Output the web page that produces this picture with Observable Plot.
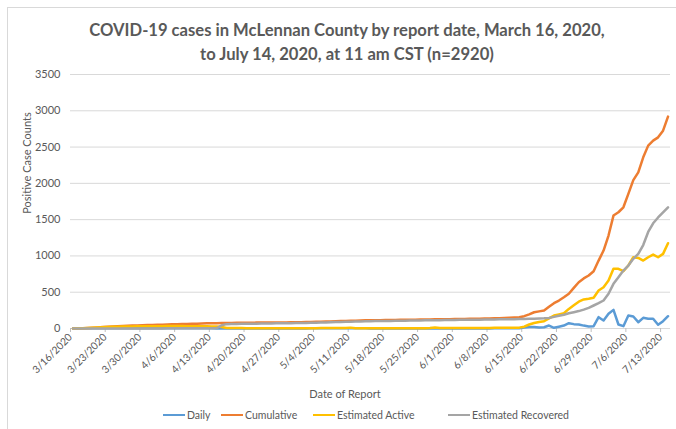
<!DOCTYPE html>
<html>
<head>
<meta charset="utf-8">
<script src="https://cdn.jsdelivr.net/npm/d3@7"></script>
<script src="https://cdn.jsdelivr.net/npm/@observablehq/plot@0.6"></script>
<style>
  html, body { margin: 0; padding: 0; background: #ffffff; }
  #wrap { position: relative; width: 676px; height: 429px; overflow: hidden; font-family: Lato, "Open Sans", sans-serif; color: #595959; }
  #frame { position: absolute; left: 7px; top: 7px; width: 700px; height: 450px; border: 1px solid #d9d9d9; box-sizing: border-box; }
  #chart { position: absolute; left: 0; top: 0; }
  .title { position: absolute; left: 0; width: 694px; text-align: center; font-weight: bold; font-size: 16.6px; color: #595959; white-space: nowrap; }
  #ylab { position: absolute; left: 26px; top: 163px; transform: translate(-50%, -50%) rotate(-90deg); font-size: 11px; white-space: nowrap; }
  #xlab { position: absolute; left: 345px; top: 393px; transform: translate(-50%, -50%); font-size: 11px; white-space: nowrap; }
  .leg { position: absolute; top: 408px; font-size: 10.5px; white-space: nowrap; display: flex; align-items: center; height: 14px; }
  .leg i { display: inline-block; width: 22px; height: 2.6px; margin-right: 2px; }
</style>
</head>
<body>
<div id="wrap">
  <div id="frame"></div>
  <div id="chart"></div>
  <div class="title" style="top:20px">COVID-19 cases in McLennan County by report date, March 16, 2020,</div>
  <div class="title" style="top:44px">to July 14, 2020, at 11 am CST (n=2920)</div>
  <div id="ylab">Positive Case Counts</div>
  <div id="xlab">Date of Report</div>
  <div id="legend"></div>
</div>
<script>
// Series names and colours
const seriesNames = ["Daily", "Cumulative", "Estimated Active", "Estimated Recovered"];
const seriesColors = ["#5B9BD5", "#ED7D31", "#FFC000", "#A5A5A5"];

// Report dates: every day from 3/16/2020 to 7/14/2020 (121 days)
const startDate = new Date(Date.UTC(2020, 2, 16));
const endDate = new Date(Date.UTC(2020, 6, 15));
const reportDates = d3.utcDay.range(startDate, endDate);

// Weekly tick labels on the x axis
const xTickDates = ["2020-03-16","2020-03-23","2020-03-30","2020-04-06","2020-04-13","2020-04-20","2020-04-27","2020-05-04","2020-05-11","2020-05-18","2020-05-25","2020-06-01","2020-06-08","2020-06-15","2020-06-22","2020-06-29","2020-07-06","2020-07-13"];
const yTicks = [0, 500, 1000, 1500, 2000, 2500, 3000, 3500];

const daily = [
  1, 1, 2, 3, 4, 4, 4,
  4, 4, 4, 3, 3, 3, 3,
  2, 2, 2, 2, 2, 2, 2,
  2, 2, 2, 2, 2, 2, 2,
  2, 1, 1, 1, 1, 1, 1,
  1, 0, 1, 0, 1, 0, 1,
  0, 1, 1, 1, 1, 1, 2,
  2, 2, 2, 2, 2, 2, 2,
  2, 2, 2, 2, 1, 1, 1,
  1, 1, 1, 1, 1, 1, 1,
  1, 1, 1, 1, 1, 1, 1,
  1, 1, 1, 1, 1, 1, 2,
  1, 2, 2, 3, 3, 4, 4,
  14, 20, 22, 15, 18, 41, 10,
  25, 41, 73, 60, 55, 40, 28,
  32, 156, 110, 202, 257, 55, 32,
  179, 165, 87, 147, 134, 134, 51,
  101, 169
];

const cumulative = [
  1, 2, 4, 7, 11, 15, 19,
  23, 27, 31, 34, 37, 40, 43,
  45, 47, 49, 51, 53, 55, 57,
  59, 61, 63, 65, 67, 69, 71,
  73, 74, 75, 76, 77, 78, 79,
  80, 80, 81, 81, 82, 82, 83,
  83, 84, 85, 86, 87, 88, 90,
  92, 94, 96, 98, 100, 102, 104,
  106, 108, 110, 112, 113, 114, 115,
  116, 117, 118, 119, 120, 121, 122,
  123, 124, 125, 126, 127, 128, 129,
  130, 131, 132, 133, 134, 135, 137,
  138, 140, 142, 145, 148, 152, 156,
  170, 195, 224, 236, 248, 300, 349,
  385, 430, 478, 560, 638, 690, 730,
  789, 936, 1074, 1281, 1556, 1602, 1670,
  1855, 2045, 2152, 2359, 2520, 2589, 2634,
  2726, 2920
];

const active = [
  1, 2, 4, 7, 10, 14, 17,
  20, 23, 25, 27, 28, 29, 30,
  30, 31, 31, 32, 32, 33, 33,
  33, 33, 32, 32, 31, 31, 30,
  29, 28, 20, 8, 7, 6, 6,
  5, 5, 5, 4, 4, 4, 4,
  4, 4, 4, 4, 5, 5, 5,
  5, 6, 6, 7, 7, 6, 6,
  12, 5, 5, 4, 4, 4, 4,
  4, 4, 4, 4, 4, 4, 4,
  5, 5, 6, 15, 6, 6, 6,
  6, 6, 7, 7, 7, 8, 8,
  8, 9, 9, 10, 10, 10, 12,
  25, 55, 75, 90, 101, 140, 179,
  195, 210, 270, 320, 370, 400, 410,
  423, 523, 569, 661, 822, 822, 789,
  868, 982, 973, 936, 982, 1019, 982,
  1028, 1175
];

const recovered = [
  0, 0, 0, 0, 0, 0, 0,
  0, 0, 0, 0, 0, 0, 0,
  0, 0, 1, 1, 1, 2, 2,
  2, 3, 3, 3, 4, 4, 5,
  5, 6, 45, 60, 62, 63, 64,
  65, 66, 67, 68, 69, 70, 71,
  72, 73, 74, 75, 76, 77, 78,
  80, 82, 84, 86, 88, 90, 92,
  94, 96, 98, 100, 101, 102, 103,
  104, 105, 106, 107, 108, 109, 110,
  111, 112, 113, 114, 115, 116, 117,
  118, 119, 120, 120, 121, 122, 123,
  124, 125, 126, 127, 128, 129, 130,
  132, 134, 136, 138, 140, 145, 160,
  175, 190, 210, 225, 240, 260, 285,
  317, 350, 386, 478, 615, 706, 799,
  868, 960, 1028, 1150, 1330, 1450, 1530,
  1600, 1670
];

const seriesValues = [daily, cumulative, active, recovered];

// Build a tidy table; each report is drawn at the middle of its day (Excel "between tick marks")
const rows = [];
seriesNames.forEach((name, si) => {
  seriesValues[si].forEach((v, i) => {
    rows.push({series: name, date: d3.utcHour.offset(reportDates[i], 12), value: v});
  });
});

const xTicks = xTickDates.map(s => new Date(s + "T00:00:00Z"));

const plot = Plot.plot({
  width: 676,
  height: 429,
  marginLeft: 70,
  marginRight: 6,
  marginTop: 74,
  marginBottom: 101,
  style: {fontFamily: "Lato, 'Open Sans', sans-serif", fontSize: "10.5px", color: "#595959", background: "transparent", overflow: "visible"},
  x: {type: "utc", domain: [startDate, endDate]},
  y: {domain: [0, 3500]},
  color: {domain: seriesNames, range: seriesColors},
  marks: [
    Plot.gridY(yTicks, {stroke: "#d9d9d9", strokeOpacity: 1, strokeWidth: 1}),
    Plot.axisY(yTicks, {tickSize: 0, tickPadding: 10, tickFormat: d => String(d), label: null, fontSize: 11, fill: "#595959"}),
    Plot.ruleY([0], {stroke: "#d9d9d9", strokeWidth: 1}),
    Plot.axisX(xTicks, {tickFormat: "%-m/%-d/%Y", tickRotate: -45, tickSize: 4, tickPadding: 3, stroke: "#bfbfbf", fill: "#595959", label: null, fontSize: 10.3}),
    ...seriesNames.map(name => Plot.line(rows.filter(r => r.series === name), {
      x: "date", y: "value", stroke: "series", strokeWidth: 2.5, strokeLinejoin: "round", strokeLinecap: "round"
    }))
  ]
});
document.getElementById("chart").appendChild(plot);

// Legend
const legendPos = [163, 221, 313, 448];
const legend = document.getElementById("legend");
seriesNames.forEach((name, i) => {
  const el = document.createElement("div");
  el.className = "leg";
  el.style.left = legendPos[i] + "px";
  el.innerHTML = `<i style="background:${seriesColors[i]}"></i>${name}`;
  legend.appendChild(el);
});
</script>
</body>
</html>
